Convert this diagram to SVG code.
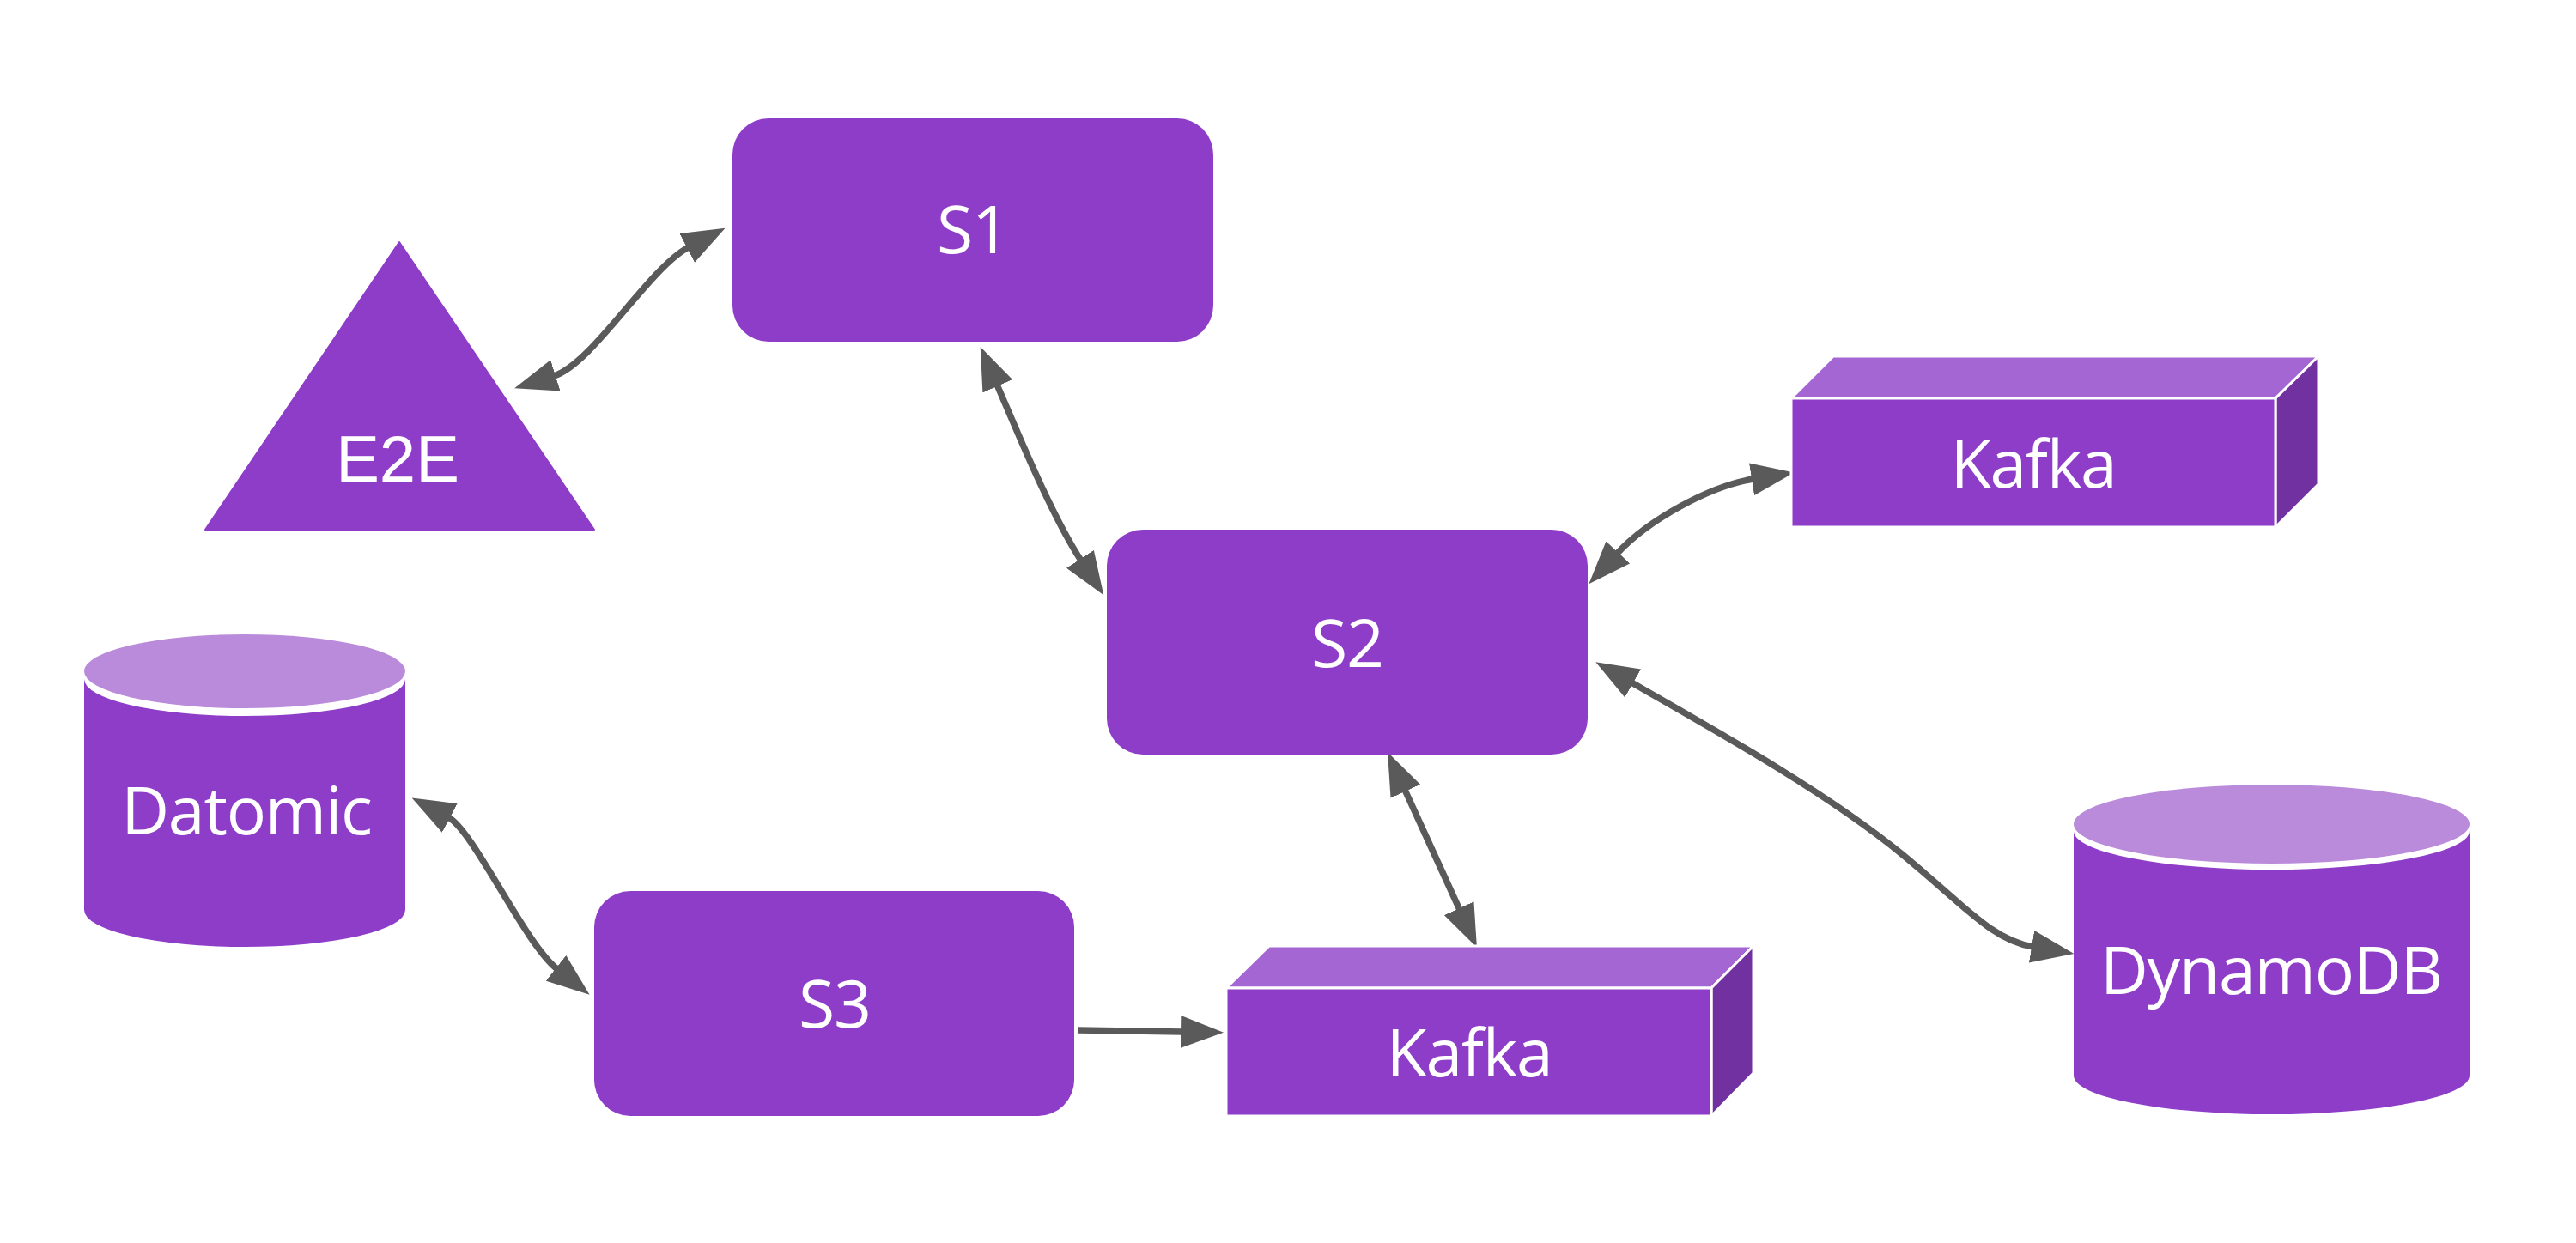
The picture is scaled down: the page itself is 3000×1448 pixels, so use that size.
<svg xmlns="http://www.w3.org/2000/svg" width="3000" height="1448" viewBox="0 0 3000 1448">
<style>
.main{fill:#8E3DC8}
.lid{fill:#BA8BDB}
.top{fill:#A366D3;stroke:#fff;stroke-width:3;stroke-linejoin:round}
.front{fill:#8E3DC8;stroke:#fff;stroke-width:3}
.side{fill:#7231A1;stroke:#fff;stroke-width:3;stroke-linejoin:round}
.lbl{fill:#fff;font-family:"Open Sans","Liberation Sans",sans-serif;font-size:77px;letter-spacing:-1.2px;text-anchor:middle}
.lbl2{fill:#fff;font-family:"Liberation Sans",Arial,sans-serif;font-size:76px;text-anchor:middle}
.edge{fill:none;stroke:#5A5A5A;stroke-width:7.5}
</style>
<defs>
<marker id="ah" viewBox="0 0 50 38" markerUnits="userSpaceOnUse" markerWidth="50" markerHeight="38" refX="2" refY="19" orient="auto-start-reverse">
<path d="M0,0 L50,19 L0,38 Z" fill="#5A5A5A"/>
</marker>
</defs>
<rect width="3000" height="1448" fill="#fff"/>
<g id="connectors">
<path class="edge" d="M645,438 C690,424 756,312 802,288" marker-start="url(#ah)" marker-end="url(#ah)"/>
<path class="edge" d="M1161,448 C1182,496 1223,598 1259,653" marker-start="url(#ah)" marker-end="url(#ah)"/>
<path class="edge" d="M1883,645 C1920,605 1992,566 2042,558" marker-start="url(#ah)" marker-end="url(#ah)"/>
<path class="edge" d="M1900,795 C2000,852 2130,925 2215,995 C2290,1057 2320,1095 2368,1103" marker-start="url(#ah)" marker-end="url(#ah)"/>
<path class="edge" d="M1636,920 L1700,1060" marker-start="url(#ah)" marker-end="url(#ah)"/>
<path class="edge" d="M522,952 C552,968 610,1098 649,1129" marker-start="url(#ah)" marker-end="url(#ah)"/>
<path class="edge" d="M1255,1200 L1377,1202" marker-end="url(#ah)"/>
</g>
<g id="e2e">
<polygon class="main" points="465,282 692,617 239,617" stroke="#8E3DC8" stroke-width="2" stroke-linejoin="round"/>
<text class="lbl2" x="463" y="561">E2E</text>
</g>
<g id="s1">
<rect class="main" x="853" y="138" width="560" height="260" rx="42"/>
<text class="lbl" x="1133" y="295">S1</text>
</g>
<g id="s2">
<rect class="main" x="1289" y="617" width="560" height="262" rx="42"/>
<text class="lbl" x="1569" y="777">S2</text>
</g>
<g id="s3">
<rect class="main" x="692" y="1038" width="559" height="262" rx="42"/>
<text class="lbl" x="972" y="1197">S3</text>
</g>
<g id="kafka1">
<polygon class="top" points="2086,464 2135,415 2700,415 2650,464"/>
<polygon class="side" points="2650,464 2700,415 2700,564 2650,614"/>
<rect class="front" x="2086" y="464" width="564" height="150"/>
<text class="lbl" x="2368" y="568">Kafka</text>
</g>
<g id="kafka2">
<polygon class="top" points="1428,1151 1478,1102 2042,1102 1993,1151"/>
<polygon class="side" points="1993,1151 2042,1102 2042,1250 1993,1300"/>
<rect class="front" x="1428" y="1151" width="565" height="149"/>
<text class="lbl" x="1711" y="1254">Kafka</text>
</g>
<g id="datomic">
<path class="main" d="M98,791 A187,43 0 0 0 472,791 L472,1060 A187,43 0 0 1 98,1060 Z"/>
<ellipse class="lid" cx="285" cy="782" rx="187" ry="43"/>
<text class="lbl" x="287" y="972">Datomic</text>
</g>
<g id="dynamodb">
<path class="main" d="M2415,968 A230.5,45 0 0 0 2876,968 L2876,1253 A230.5,45 0 0 1 2415,1253 Z"/>
<ellipse class="lid" cx="2645.5" cy="960" rx="230.5" ry="46"/>
<text class="lbl" x="2645" y="1158">DynamoDB</text>
</g>
</svg>
